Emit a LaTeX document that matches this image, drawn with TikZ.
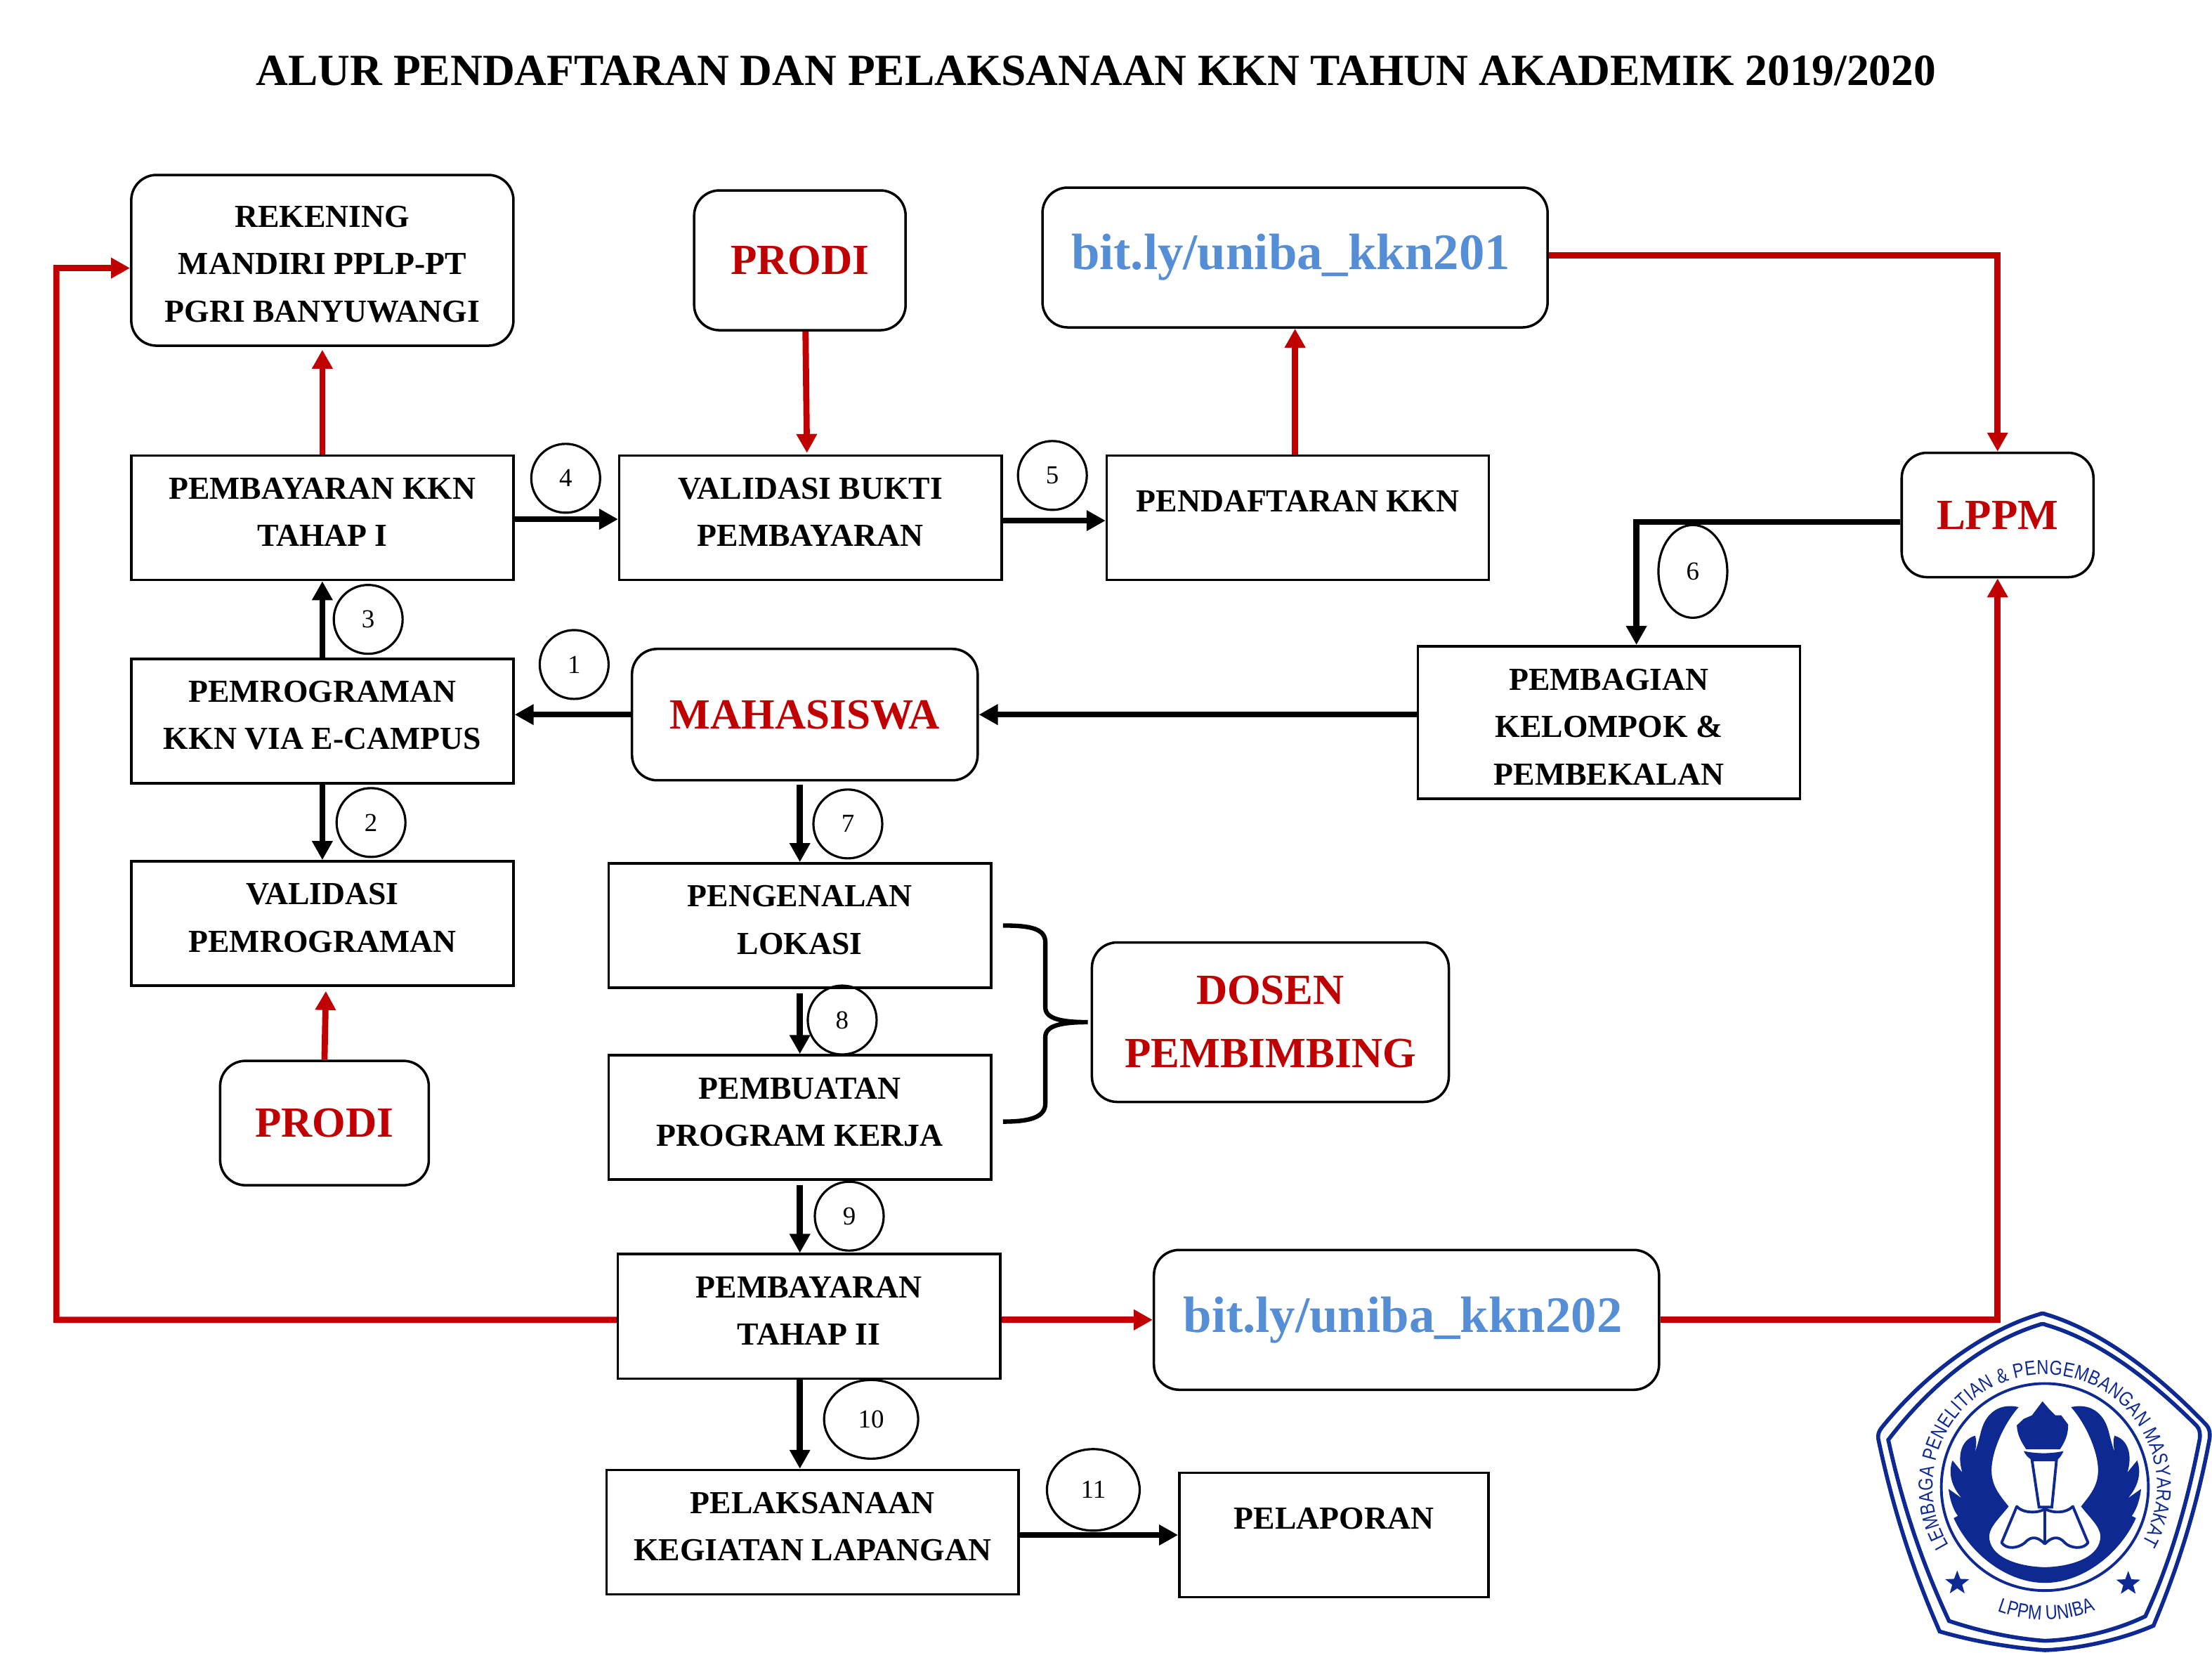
\documentclass[tikz,border=0pt]{standalone}
\usepackage{fontspec}
\setmainfont{Liberation Serif}
\newfontfamily\logofont[FakeStretch=0.82]{Liberation Sans}
\usetikzlibrary{shapes.geometric, arrows.meta, calc, decorations.text}
\definecolor{alurred}{RGB}{192,0,0}
\definecolor{linkblue}{RGB}{85,142,213}
\definecolor{logoblue}{RGB}{14,41,146}
\tikzset{
  rectbox/.style={
    rectangle, draw=black, line width=1pt, inner sep=0pt,
    minimum width=5.44cm, minimum height=1.77cm, text depth=4.6pt,
    align=center, font=\fontsize{13}{19.1}\selectfont\bfseries
  },
  roundbox/.style={
    rectangle, rounded corners=0.36cm, draw=black, line width=1pt, inner sep=0pt,
    align=center, text=alurred, font=\fontsize{17.4}{25.6}\selectfont\bfseries
  },
  linkbox/.style={
    roundbox, minimum width=7.19cm, minimum height=1.99cm, text=linkblue,
    font=\fontsize{20.7}{24}\selectfont\bfseries
  },
  stepmark/.style={
    ellipse, draw=black, line width=0.9pt, inner sep=0pt,
    minimum width=0.98cm, minimum height=0.98cm,
    font=\fontsize{10.5}{12}\selectfont
  },
  blackarrow/.style={-{Triangle[length=0.27cm,width=0.28cm]}, line width=2.4pt, draw=black},
  redarrow/.style={-{Triangle[length=0.27cm,width=0.28cm]}, line width=2.5pt, draw=alurred},
}
\begin{document}
\begin{tikzpicture}[x=0.020083cm,y=-0.020083cm]
\useasboundingbox (0,0) rectangle (1568,1171.6);

% ---- title ----
\node[font=\fontsize{18.04}{22}\selectfont\bfseries, inner sep=0pt] (title) at (777,50)
  {ALUR PENDAFTARAN DAN PELAKSANAAN KKN TAHUN AKADEMIK 2019/2020};

% ---- fixed positions ----
\node[roundbox, text=black, minimum width=5.44cm, minimum height=2.43cm, text height=50pt, font=\fontsize{13}{19.1}\selectfont\bfseries]
  (rekening) at (228.5,184.5) {REKENING\\MANDIRI PPLP-PT\\PGRI BANYUWANGI};
\node[roundbox, minimum width=3.01cm, minimum height=1.99cm] (prodiA) at (567,184.5) {PRODI};
\node[linkbox] (bitlyA) at (918,182.5) {bit.ly/uniba\_kkn201\kern3.5pt};

\node[rectbox] (bayarA)      at (228.5,367) {PEMBAYARAN KKN\\TAHAP I};
\node[rectbox] (validasiB)   at (574.5,367) {VALIDASI BUKTI\\PEMBAYARAN};
\node[rectbox, text depth=13.6pt] (daftar) at (920,367) {PENDAFTARAN KKN};
\node[roundbox, minimum width=2.73cm, minimum height=1.77cm] (lppm) at (1416,365) {LPPM};

\node[rectbox] (pemrograman) at (228.5,511) {PEMROGRAMAN\\KKN VIA E-CAMPUS};
\node[roundbox, minimum width=4.92cm, minimum height=1.87cm] (mahasiswa) at (570.5,506.5) {MAHASISWA};
\node[rectbox, minimum height=2.17cm, text depth=0pt, text height=50.5pt] (pembagian) at (1140.5,512) {PEMBAGIAN\\KELOMPOK \&\\PEMBEKALAN};

\node[rectbox] (validasiP)  at (228.5,654.5) {VALIDASI\\PEMROGRAMAN};
\node[rectbox] (pengenalan) at (567,656) {PENGENALAN\\LOKASI};
\node[rectbox] (pembuatan)  at (567,792) {PEMBUATAN\\PROGRAM KERJA};
\node[roundbox, minimum width=2.97cm, minimum height=1.77cm] (prodiB) at (230,796) {PRODI};
\node[roundbox, minimum width=5.08cm, minimum height=2.27cm] (dosen) at (900.5,724.5) {DOSEN\\PEMBIMBING};

\node[rectbox] (bayarB) at (573.5,933) {PEMBAYARAN\\TAHAP II};
\node[linkbox] (bitlyB) at (997,935.5) {bit.ly/uniba\_kkn202\kern3pt};
\node[rectbox, minimum width=5.86cm] (laksana) at (576,1086) {PELAKSANAAN\\KEGIATAN LAPANGAN};
\node[rectbox, minimum width=4.40cm, text depth=13.6pt] (lapor) at (945.5,1088) {PELAPORAN};

% ---- step numbers ----
\node[stepmark] (num1) at (407,471)  {1};
\node[stepmark] (num2) at (263,583)  {2};
\node[stepmark] (num3) at (261,439)  {3};
\node[stepmark] (num4) at (401,339)  {4};
\node[stepmark] (num5) at (746,337)  {5};
\node[stepmark, minimum height=1.32cm] (num6) at (1200,405) {6};
\node[stepmark] (num7) at (601,584)  {7};
\node[stepmark] (num8) at (597,723)  {8};
\node[stepmark] (num9) at (602,862)  {9};
\node[stepmark, minimum width=1.34cm, minimum height=1.12cm] (num10) at (617.5,1006) {10};
\node[stepmark, minimum width=1.32cm, minimum height=1.16cm] (num11) at (775,1056) {11};

% ---- red connectors ----
\draw[redarrow] (bayarA.north) -- ($(rekening.south)+(0,2)$);
\draw[redarrow] ($(prodiA.south)+(4,0)$) -- ($(validasiB.north)+(-2.5,-1)$);
\draw[redarrow] (bitlyA.south |- daftar.north) -- (bitlyA.south);
\draw[redarrow] ($(bitlyA.east)+(0,-1.5)$) -| (lppm.north);
\draw[redarrow] (prodiB.north) -- ($(prodiB.north |- validasiP.south)+(1,3)$);
\draw[redarrow] (bayarB.east |- bitlyB.west) -- (bitlyB.west);
\draw[redarrow] (bitlyB.east) -| (lppm.south);
\coordinate (railtop) at (40,190);
\draw[redarrow] (bayarB.west |- bitlyB.west) -| (railtop) -- ($(rekening.west)+(0,5.5)$);

% ---- black connectors ----
\draw[blackarrow] (pemrograman.north) -- (bayarA.south);
\draw[blackarrow] (pemrograman.south) -- (validasiP.north);
\draw[blackarrow] ($(bayarA.east)+(0,1)$) -- ($(validasiB.west)+(0,1)$);
\draw[blackarrow] ($(validasiB.east)+(0,2)$) -- ($(daftar.west)+(0,2)$);
\draw[blackarrow] (mahasiswa.west) -- (pemrograman.east |- mahasiswa.west);
\draw[blackarrow] (pembagian.west |- mahasiswa.east) -- (mahasiswa.east);
\draw[blackarrow] ($(lppm.west)+(0,5)$) -| ($(pembagian.north)+(19.5,0)$);
\draw[blackarrow] (pengenalan.north |- 0,556) -- (pengenalan.north);
\draw[blackarrow] (pengenalan.south |- 0,704) -- (pembuatan.north);
\draw[blackarrow] (pembuatan.south |- 0,840) -- (pembuatan.south |- bayarB.north);
\draw[blackarrow] (pembuatan.south |- bayarB.south) -- (pembuatan.south |- laksana.north);
\draw[blackarrow] (laksana.east |- lapor.west) -- (lapor.west);

% ---- brace towards the lecturer ----
\coordinate (bracetip) at ($(dosen.west)+(-2,0)$);
\draw[line width=1.8pt] (711,656) .. controls (730,656) and (741,658) .. (741,668) -- (741,714)
  .. controls (741,722) and (752,724.5) .. (bracetip)
  .. controls (752,724.5) and (741,727) .. (741,735) -- (741,782)
  .. controls (741,792) and (730,795) .. (711,795);

% ---- logo, drawn directly (units: 1/3 image pixel) ----
\begin{scope}[shift={(1314.5,916.2)},x=0.003333cm,y=-0.003333cm]
  \draw[logoblue, line width=1.6pt]
    (820,93) .. controls (1060,165) and (1300,350) .. (1505,565)
    .. controls (1522,585) and (1522,600) .. (1520,625)
    .. controls (1460,950) and (1370,1210) .. (1280,1425)
    .. controls (1130,1490) and (950,1525) .. (815,1530)
    .. controls (680,1520) and (520,1495) .. (365,1450)
    .. controls (260,1210) and (170,950) .. (102,625)
    .. controls (100,605) and (105,595) .. (115,580)
    .. controls (300,350) and (550,165) .. (790,93)
    .. controls (800,88) and (810,88) .. cycle;
  \draw[logoblue, line width=1.6pt]
    (820,138) .. controls (1050,205) and (1270,375) .. (1465,570)
    .. controls (1478,585) and (1480,600) .. (1478,625)
    .. controls (1420,930) and (1340,1180) .. (1245,1385)
    .. controls (1110,1450) and (950,1485) .. (815,1490)
    .. controls (680,1480) and (540,1450) .. (405,1405)
    .. controls (300,1180) and (210,930) .. (145,630)
    .. controls (340,375) and (570,205) .. (790,138)
    .. controls (800,133) and (810,133) .. cycle;
  \draw[logoblue, line width=1.1pt] (815,832) circle[radius=443];

  % wings, one side and its mirror image
  \foreach \m in {1,-1}{
    \begin{scope}[shift={(815,0)},xscale=\m]
      \fill[logoblue] (-112,490) .. controls (-190,472) and (-250,510) .. (-272,590)
        .. controls (-285,640) and (-290,660) .. (-300,685)
        .. controls (-292,655) and (-292,630) .. (-298,612)
        .. controls (-360,630) and (-375,700) .. (-353,770)
        -- (-395,718) .. controls (-415,770) and (-400,830) .. (-355,880)
        -- (-412,840) .. controls (-405,900) and (-385,940) .. (-372,955)
        -- (-390,965) .. controls (-320,1120) and (-160,1242) .. (0,1242)
        -- (0,1175) .. controls (-120,1172) and (-240,1130) .. (-238,1040)
        .. controls (-235,1000) and (-190,960) .. (-155,915)
        .. controls (-190,870) and (-228,830) .. (-228,760)
        .. controls (-228,680) and (-175,560) .. cycle;
    \end{scope}
  }

  % torch and book
  \fill[logoblue] (805,465) -- (835,500) -- (860,525) -- (885,525) -- (915,565)
    .. controls (915,610) and (900,640) .. (880,670) -- (735,670)
    .. controls (715,640) and (697,610) .. (695,568) -- (725,540) -- (760,525) -- cycle;
  \fill[logoblue] (725,678) .. controls (780,690) and (840,690) .. (895,678)
    .. controls (885,700) and (875,712) .. (865,716) -- (760,716) .. controls (745,708) and (732,695) .. cycle;
  \draw[logoblue, line width=1.1pt] (760,716) -- (865,716) -- (845,918) -- (790,918) -- cycle;
  \draw[logoblue, line width=1.1pt, line join=round] (695,915) .. controls (720,945) and (790,945) .. (815,925)
    .. controls (850,945) and (905,945) .. (935,915) -- (1000,1070)
    .. controls (980,1100) and (925,1095) .. (900,1070) .. controls (870,1035) and (840,1050) .. (815,1075)
    .. controls (790,1050) and (760,1035) .. (730,1070) .. controls (700,1095) and (650,1100) .. (630,1070) -- cycle;
  \draw[logoblue, line width=1.1pt] (815,925) -- (815,1075);

  \node[star, star points=5, star point ratio=2.4, fill=logoblue, inner sep=0pt, minimum size=0.36cm] (starL) at (440,1243) {};
  \node[star, star points=5, star point ratio=2.4, fill=logoblue, inner sep=0pt, minimum size=0.36cm] (starR) at (1172,1245) {};

  % curved lettering
  \path[decorate, decoration={text along path, text align={fit to path},
      text={|\logofont\fontsize{8.2}{9}\selectfont\color{logoblue}|LEMBAGA PENELITIAN {\&} PENGEMBANGAN MASYARAKAT}}]
    ({815+480*cos(148.4)},{830+480*sin(148.4)}) arc[start angle=148.4, end angle=390, radius=480];
  \path[decorate, decoration={text along path, text align={fit to path},
      text={|\logofont\fontsize{8.2}{9}\selectfont\color{logoblue}|LPPM UNIBA}}]
    ({815+570*cos(111)},{830+570*sin(111)}) arc[start angle=111, end angle=69, radius=570];
\end{scope}

\end{tikzpicture}
\end{document}
